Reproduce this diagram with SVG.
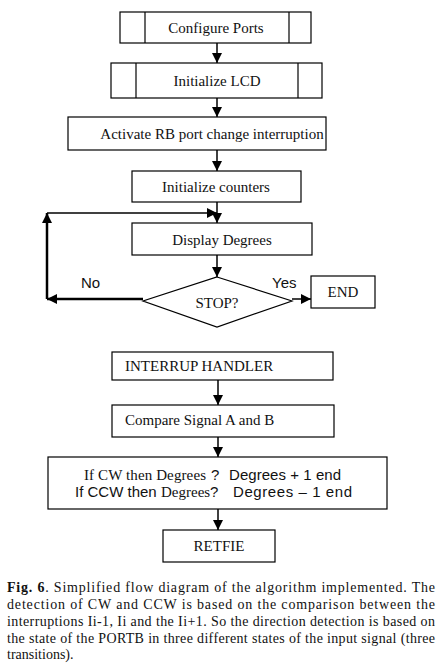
<svg xmlns="http://www.w3.org/2000/svg" width="441" height="670" viewBox="0 0 441 670">
<defs>
<marker id="ah" viewBox="0 0 10 10" refX="10" refY="5" markerWidth="10" markerHeight="10" markerUnits="userSpaceOnUse" orient="auto">
<path d="M0,0 L10,5 L0,10 Z" fill="#000"/>
</marker>
</defs>
<style>
.box{fill:#fff;stroke:#000;stroke-width:1.2}
.t{font-family:"Liberation Serif","Times New Roman",serif;font-size:15px;fill:#111}
.s{font-family:"Liberation Sans",Arial,sans-serif;font-size:15px;fill:#111}
.c{text-anchor:middle}
.ln{stroke:#000;stroke-width:1.5;fill:none}
.lt{stroke:#000;stroke-width:2.5;fill:none}
.cap{font-family:"Liberation Serif","Times New Roman",serif;font-size:14px;fill:#111}
</style>
<rect width="441" height="670" fill="#fff"/>
<g id="connectors">
<line class="ln" x1="217" y1="43" x2="217" y2="63" marker-end="url(#ah)"/>
<line class="ln" x1="217" y1="98" x2="217" y2="117" marker-end="url(#ah)"/>
<line class="ln" x1="217" y1="150" x2="217" y2="171" marker-end="url(#ah)"/>
<line class="ln" x1="217" y1="202" x2="217" y2="223" marker-end="url(#ah)"/>
<line class="ln" x1="217" y1="255" x2="217" y2="277" marker-end="url(#ah)"/>
<line class="lt" x1="143" y1="299" x2="47" y2="299" marker-end="url(#ah)"/>
<line class="lt" x1="47" y1="299" x2="47" y2="213" marker-end="url(#ah)"/>
<line class="ln" x1="47" y1="213" x2="217" y2="213" marker-end="url(#ah)"/>
<line class="ln" x1="292" y1="299" x2="311" y2="299" marker-end="url(#ah)"/>
<line class="ln" x1="218" y1="380" x2="218" y2="405" marker-end="url(#ah)"/>
<line class="ln" x1="218" y1="437" x2="218" y2="457" marker-end="url(#ah)"/>
<line class="ln" x1="218" y1="509" x2="218" y2="530" marker-end="url(#ah)"/>
<text class="s" x="81" y="288">No</text>
<text class="s" x="272" y="288">Yes</text>
</g>
<g id="configure-ports">
<rect class="box" x="120" y="12" width="191" height="31"/>
<line class="ln" x1="145" y1="12" x2="145" y2="43" style="stroke-width:1.2"/>
<line class="ln" x1="289" y1="12" x2="289" y2="43" style="stroke-width:1.2"/>
<text class="t c" x="216" y="33">Configure Ports</text>
</g>
<g id="initialize-lcd">
<rect class="box" x="111" y="63" width="211" height="35"/>
<line class="ln" x1="136" y1="63" x2="136" y2="98" style="stroke-width:1.2"/>
<line class="ln" x1="298" y1="63" x2="298" y2="98" style="stroke-width:1.2"/>
<text class="t c" x="217" y="86">Initialize LCD</text>
</g>
<g id="activate-rb">
<rect class="box" x="68" y="117" width="258" height="33"/>
<text class="t c" x="212" y="139">Activate RB port change interruption</text>
</g>
<g id="initialize-counters">
<rect class="box" x="132" y="171" width="169" height="31"/>
<text class="t c" x="216" y="192">Initialize counters</text>
</g>
<g id="display-degrees">
<rect class="box" x="132" y="223" width="180" height="32"/>
<text class="t c" x="222" y="244.5">Display Degrees</text>
</g>
<g id="stop">
<polygon class="box" points="217,277 292,301 217,327 143,301"/>
<text class="t c" x="217" y="308">STOP?</text>
</g>
<g id="end">
<rect class="box" x="311" y="276" width="64" height="32"/>
<text class="t c" x="343" y="297">END</text>
</g>
<g id="interrupt-handler">
<rect class="box" x="112" y="352" width="221" height="28"/>
<text class="t" x="125" y="371">INTERRUP HANDLER</text>
</g>
<g id="compare">
<rect class="box" x="112" y="405" width="222" height="32"/>
<text class="t" x="125" y="425">Compare Signal A and B</text>
</g>
<g id="update">
<rect class="box" x="48" y="457" width="339" height="52"/>
<text class="t" x="84" y="480" textLength="122" lengthAdjust="spacing">If CW then Degrees</text>
<text class="s" x="211" y="480">?</text>
<text class="s" x="229" y="480" textLength="112" lengthAdjust="spacing">Degrees + 1 end</text>
<text class="s" x="75" y="497">If CCW then</text>
<text class="t" x="161" y="497">Degrees</text>
<text class="s" x="210" y="497">?</text>
<text class="s" x="233" y="497" textLength="119" lengthAdjust="spacing">Degrees – 1 end</text>
</g>
<g id="retfie">
<rect class="box" x="163" y="530" width="112" height="32"/>
<text class="t c" x="219" y="551">RETFIE</text>
</g>
<g id="caption">
<text class="cap" x="7" y="592" textLength="428" lengthAdjust="spacing"><tspan font-weight="bold">Fig. 6</tspan>. Simplified flow diagram of the algorithm implemented. The</text>
<text class="cap" x="7" y="609" textLength="428" lengthAdjust="spacing">detection of CW and CCW is based on the comparison between the</text>
<text class="cap" x="7" y="626" textLength="428" lengthAdjust="spacing">interruptions Ii-1, Ii and the Ii+1. So the direction detection is based on</text>
<text class="cap" x="7" y="643" textLength="428" lengthAdjust="spacing">the state of the PORTB in three different states of the input signal (three</text>
<text class="cap" x="7" y="659">transitions).</text>
</g>
</svg>
